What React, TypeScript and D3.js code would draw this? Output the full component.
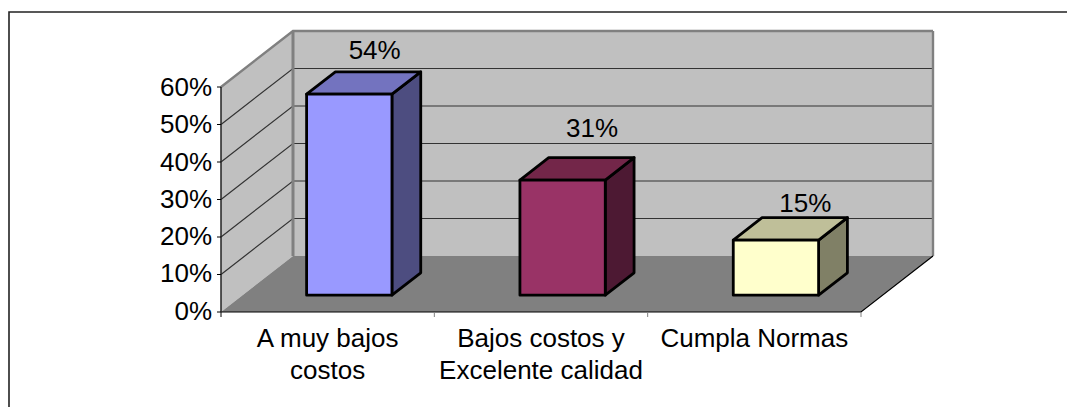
import React from "react";
import * as d3 from "d3";

const categories = [["A muy bajos", "costos"], ["Bajos costos y", "Excelente calidad"], ["Cumpla Normas"]];
const values = [53.6, 30.7, 14.7];
const valueLabels = ["54%", "31%", "15%"];
const faceColors = ["#9999ff", "#993366", "#ffffcc"];
const topColors = ["#7373bf", "#732649", "#bfbf99"];
const sideColors = ["#4d4d80", "#4d1933", "#808066"];
const ticks = [0, 10, 20, 30, 40, 50, 60];

const FONT = "'Liberation Sans', Arial, sans-serif";
const FS = 26;
const y = d3.scaleLinear().domain([0, 60]).range([312, 87]);
const x = d3.scaleBand().domain(["0", "1", "2"]).range([221, 861]);
const DX = 72;
const DY = -56;
const pt = (px: number, py: number, d: number) => [px + DX * d, py + DY * d] as [number, number];
const poly = (p: [number, number][]) => d3.line()(p) + "Z";

export default function App() {
  const x0 = 221, x1 = 861, y0 = y(0), yT = y(60);
  const bw = x.bandwidth() * 0.4;
  const labelLift = [13, 21, 6];
  const labelShift = [11, 15, 15];
  return (
    <svg width={1067} height={407} style={{ position: "absolute", left: 0, top: 0, background: "#fff" }} fontFamily={FONT}>
      <path d="M9 407V12H1067" fill="none" stroke="#222" strokeWidth={1.6} />
      <path d={poly([pt(x0, yT, 1), pt(x1, yT, 1), pt(x1, y0, 1), pt(x0, y0, 1)])} fill="#c0c0c0" />
      <path d={poly([pt(x0, yT, 0), pt(x0, yT, 1), pt(x0, y0, 1), pt(x0, y0, 0)])} fill="#c0c0c0" />
      <path d={poly([pt(x0, y0, 0), pt(x0, y0, 1), pt(x1, y0, 1), pt(x1, y0, 0)])} fill="#808080" />
      {ticks.slice(1).map((t) => (
        <path key={t} d={d3.line()([pt(x0, y(t), 0), pt(x0, y(t), 1), pt(x1, y(t), 1)]) || ""} fill="none"
          stroke={t === 60 ? "#808080" : "#333"} strokeWidth={t === 60 ? 2.4 : 1.2} />
      ))}
      <path d={d3.line()([pt(x0, y0, 1), pt(x0, yT, 1)]) || ""} stroke="#808080" strokeWidth={3} fill="none" />
      <path d={d3.line()([pt(x1, yT, 1), pt(x1, y0, 1)]) || ""} stroke="#808080" strokeWidth={2.4} fill="none" />
      <path d={d3.line()([pt(x0, y0, 0), pt(x1, y0, 0), pt(x1, y0, 1)]) || ""} stroke="#000" strokeWidth={1.2} fill="none" />
      <path d={`M${x0} ${yT}V${y0}`} stroke="#222" strokeWidth={1.5} fill="none" />
      {ticks.map((t) => (
        <g key={t}>
          <line x1={x0 - 4} x2={x0} y1={y(t)} y2={y(t)} stroke="#000" />
          <text x={x0 - 9} y={y(t) + 7.5 + t / 40} textAnchor="end" fontSize={FS} fill="#000">{t}%</text>
        </g>
      ))}
      {x.domain().map((k, i) => {
        const l = x(k)!;
        return <line key={k} x1={l} x2={l} y1={y0} y2={y0 + 5} stroke={i === 0 ? "#000" : "#808080"} />;
      }).concat(<line key="end" x1={x1} x2={x1} y1={y0} y2={y0 + 5} stroke="#808080" />)}
      {values.map((v, i) => {
        const left = x(String(i))! + x.bandwidth() * 0.3;
        const right = left + bw;
        const d1 = 0.3, d2 = 0.7;
        const yTop = y(v), yBot = y(0);
        const fbl = pt(left, yBot, d1), fbr = pt(right, yBot, d1), ftl = pt(left, yTop, d1), ftr = pt(right, yTop, d1);
        const btl = pt(left, yTop, d2), btr = pt(right, yTop, d2), bbr = pt(right, yBot, d2);
        const common = { stroke: "#000", strokeWidth: 2.8, strokeLinejoin: "round" as const };
        return (
          <g key={i}>
            <path d={poly([fbr, bbr, btr, ftr])} fill={sideColors[i]} {...common} />
            <path d={poly([ftl, btl, btr, ftr])} fill={topColors[i]} {...common} />
            <path d={poly([ftl, ftr, fbr, fbl])} fill={faceColors[i]} {...common} />
            <text x={(ftl[0] + btr[0]) / 2 + labelShift[i]} y={btr[1] - labelLift[i]} textAnchor="middle" fontSize={FS} fill="#000">{valueLabels[i]}</text>
          </g>
        );
      })}
      {categories.map((lines, i) => (
        <text key={i} textAnchor="middle" fontSize={FS} fill="#000">
          {lines.map((s, j) => (
            <tspan key={j} x={x(String(i))! + x.bandwidth() / 2} y={347 + j * 32}>{s}</tspan>
          ))}
        </text>
      ))}
    </svg>
  );
}
